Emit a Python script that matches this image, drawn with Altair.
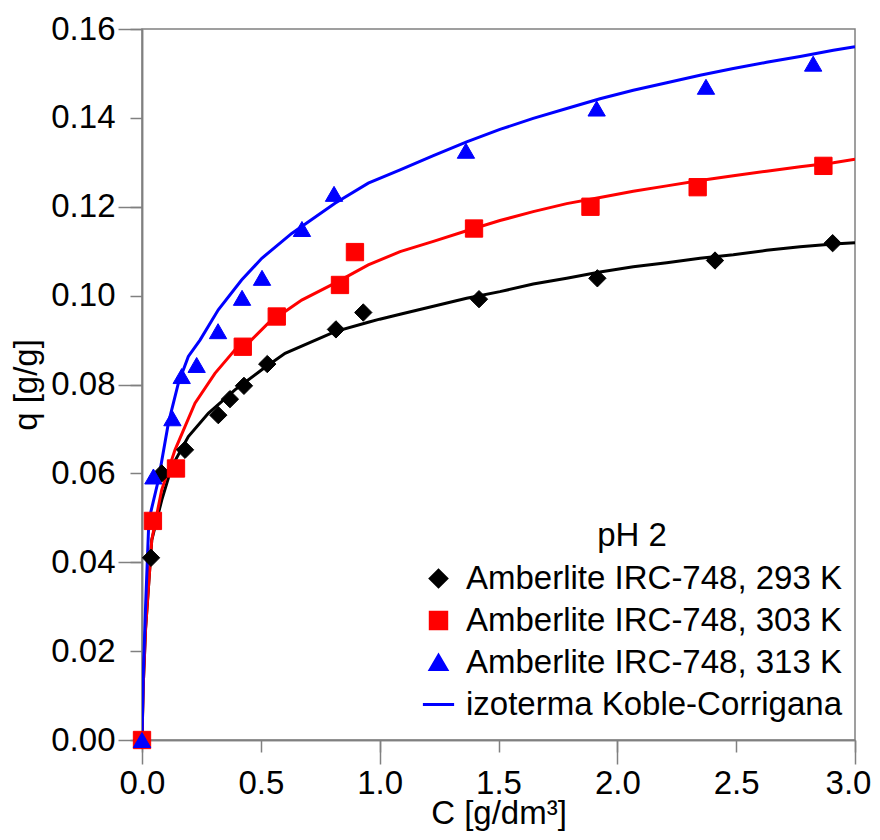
import altair as alt
import pandas as pd

# ---- data ----
series_names = ["Amberlite IRC-748, 293 K", "Amberlite IRC-748, 303 K",
                "Amberlite IRC-748, 313 K"]
fit_name = "izoterma Koble-Corrigana"

c_293 = [0.0, 0.038, 0.083, 0.181, 0.321, 0.370, 0.429, 0.527, 0.816, 0.931, 1.418, 1.916, 2.411, 2.906]
q_293 = [0.0, 0.041, 0.060, 0.0653, 0.0731, 0.0767, 0.0797, 0.0846, 0.0924, 0.0962, 0.0992, 0.1039, 0.1079, 0.1118]

c_303 = [0.0, 0.046, 0.143, 0.424, 0.567, 0.833, 0.896, 1.397, 1.887, 2.338, 2.867]
q_303 = [0.0, 0.0493, 0.0611, 0.0885, 0.0953, 0.1024, 0.1098, 0.1151, 0.1200, 0.1244, 0.1292]

c_313 = [0.0, 0.048, 0.128, 0.167, 0.230, 0.320, 0.421, 0.505, 0.673, 0.808, 1.363, 1.913, 2.373, 2.824]
q_313 = [0.0, 0.0593, 0.0724, 0.0819, 0.0844, 0.0920, 0.0995, 0.1040, 0.1150, 0.1229, 0.1326, 0.1421, 0.1470, 0.1522]

fit_c_293 = [0.0, 0.005, 0.015, 0.041, 0.083, 0.125, 0.195, 0.279, 0.391, 0.504, 0.602, 0.812, 0.952, 1.0,
             1.086, 1.226, 1.366, 1.506, 1.646, 1.787, 1.927, 2.067, 2.208, 2.348, 2.488, 2.628, 2.769, 2.909, 3.0]
fit_q_293 = [0.0, 0.012, 0.025, 0.045, 0.054, 0.0615, 0.0683, 0.0735, 0.0788, 0.0833, 0.0870, 0.0919, 0.0940, 0.0947,
             0.0958, 0.0976, 0.0994, 0.1009, 0.1026, 0.1039, 0.1053, 0.1065, 0.1074, 0.1084, 0.1092, 0.1102, 0.1110,
             0.1116, 0.1119]

fit_c_303 = [0.0, 0.005, 0.015, 0.041, 0.083, 0.139, 0.223, 0.307, 0.391, 0.447, 0.531, 0.672, 0.812, 0.952,
             1.086, 1.226, 1.366, 1.506, 1.646, 1.787, 1.927, 2.067, 2.208, 2.348, 2.488, 2.628, 2.769, 2.909, 3.0]
fit_q_303 = [0.0, 0.012, 0.025, 0.045, 0.0563, 0.0653, 0.0758, 0.0825, 0.0878, 0.0893, 0.0938, 0.0990, 0.1028,
             0.1069, 0.1099, 0.1122, 0.1146, 0.1169, 0.1189, 0.1207, 0.1221, 0.1235, 0.1247, 0.1259, 0.1270,
             0.1280, 0.1290, 0.1299, 0.1307]

fit_c_313 = [0.0, 0.005, 0.015, 0.029, 0.069, 0.111, 0.153, 0.195, 0.244, 0.321, 0.419, 0.504, 0.630, 0.812,
             0.952, 1.086, 1.226, 1.366, 1.506, 1.646, 1.787, 1.927, 2.067, 2.208, 2.348, 2.488, 2.628, 2.769,
             2.909, 3.0]
fit_q_313 = [0.0, 0.014, 0.030, 0.0495, 0.0585, 0.0713, 0.0803, 0.0863, 0.0900, 0.0968, 0.1035, 0.1084, 0.1140,
             0.1208, 0.1253, 0.1283, 0.1315, 0.1346, 0.1374, 0.1399, 0.1421, 0.1443, 0.1462, 0.1479, 0.1496,
             0.1511, 0.1525, 0.1538, 0.1552, 0.1560]

x_ticks = [0.0, 0.5, 1.0, 1.5, 2.0, 2.5, 3.0]
x_major = [0.0, 1.0, 2.0, 3.0]
y_ticks = [0.0, 0.02, 0.04, 0.06, 0.08, 0.10, 0.12, 0.14, 0.16]
y_major = [0.0, 0.04, 0.08, 0.12, 0.16]

# ---- tables ----
pts = pd.concat([
    pd.DataFrame({"C": c_293, "q": q_293, "series": series_names[0]}),
    pd.DataFrame({"C": c_303, "q": q_303, "series": series_names[1]}),
    pd.DataFrame({"C": c_313, "q": q_313, "series": series_names[2]}),
])
fits = pd.concat([
    pd.DataFrame({"C": fit_c_293, "q": fit_q_293, "series": series_names[0]}),
    pd.DataFrame({"C": fit_c_303, "q": fit_q_303, "series": series_names[1]}),
    pd.DataFrame({"C": fit_c_313, "q": fit_q_313, "series": series_names[2]}),
])

domain = series_names + [fit_name]
colors = ["#000000", "#ff0000", "#0000ff", "#0000ff"]
shapes = ["diamond", "square", "triangle-up", "M-1.9,0L1.9,0"]

FONT = "Liberation Sans"
GRAY = "#808080"
FS = 33

xs = alt.Scale(domain=[0, 3], nice=False, zero=False)
ys = alt.Scale(domain=[0, 0.16], nice=False)

# long (major) ticks only, no labels
x_axis_major = alt.Axis(values=x_major, orient="bottom", labels=False, title=None, grid=False, tickSize=24)
y_axis_major = alt.Axis(values=y_major, orient="left", labels=False, title=None, grid=False, tickSize=24)
# short ticks with labels and titles
x_axis = alt.Axis(values=x_ticks, orient="bottom", format=".1f", title="C [g/dm³]", grid=False,
                  tickSize=12, labelPadding=15, titlePadding=-3,
                  labelOffset={"condition": {"test": "datum.value > 2.9", "value": -7}, "value": 0})
y_axis = alt.Axis(values=y_ticks, orient="left", format=".2f", title="q [g/g]", grid=False,
                  tickSize=12, labelPadding=15, titlePadding=7)

legend = alt.Legend(title="pH 2", orient="none", legendX=280, legendY=491,
                    direction="vertical", labelLimit=0)

lines = alt.Chart(fits).mark_line(strokeWidth=3, clip=True).encode(
    x=alt.X("C:Q", scale=xs, axis=x_axis_major),
    y=alt.Y("q:Q", scale=ys, axis=y_axis_major),
    stroke=alt.Stroke("series:N", scale=alt.Scale(domain=domain, range=colors), legend=legend),
    order=alt.Order("C:Q"),
)

points = alt.Chart(pts).mark_point(filled=True, opacity=1, strokeWidth=1).encode(
    x=alt.X("C:Q", scale=xs, axis=x_axis),
    y=alt.Y("q:Q", scale=ys, axis=y_axis),
    fill=alt.Fill("series:N", scale=alt.Scale(domain=domain, range=colors), legend=legend),
    stroke=alt.Stroke("series:N", scale=alt.Scale(domain=domain, range=colors), legend=legend),
    shape=alt.Shape("series:N", scale=alt.Scale(domain=domain, range=shapes), legend=legend),
    size=alt.value(300),
)

chart = alt.layer(lines, points).resolve_axis(
    x="independent", y="independent"
).properties(
    width=713, height=711,
    autosize=alt.AutoSizeParams(type="none"),
    padding={"left": 134, "top": 21, "right": 17, "bottom": 92},
).configure_view(
    stroke=GRAY, strokeWidth=1.5
).configure_axis(
    labelFont=FONT, titleFont=FONT, labelFontSize=FS, titleFontSize=FS,
    titleFontWeight="normal", labelColor="#000000", titleColor="#000000",
    domainColor=GRAY, tickColor=GRAY, domainWidth=1.5, tickWidth=1.5,
    labelFlush=False, labelOverlap=False,
).configure_legend(
    titleFont=FONT, labelFont=FONT, titleFontSize=FS, labelFontSize=FS,
    titleFontWeight="normal", titleColor="#000000", labelColor="#000000",
    titleAnchor="middle", titleAlign="center",
    symbolSize=270, symbolStrokeWidth=3, rowPadding=8, labelOffset=11,
    titlePadding=9,
)

chart.save("out.html", embed_options={"renderer": "svg", "actions": False})
